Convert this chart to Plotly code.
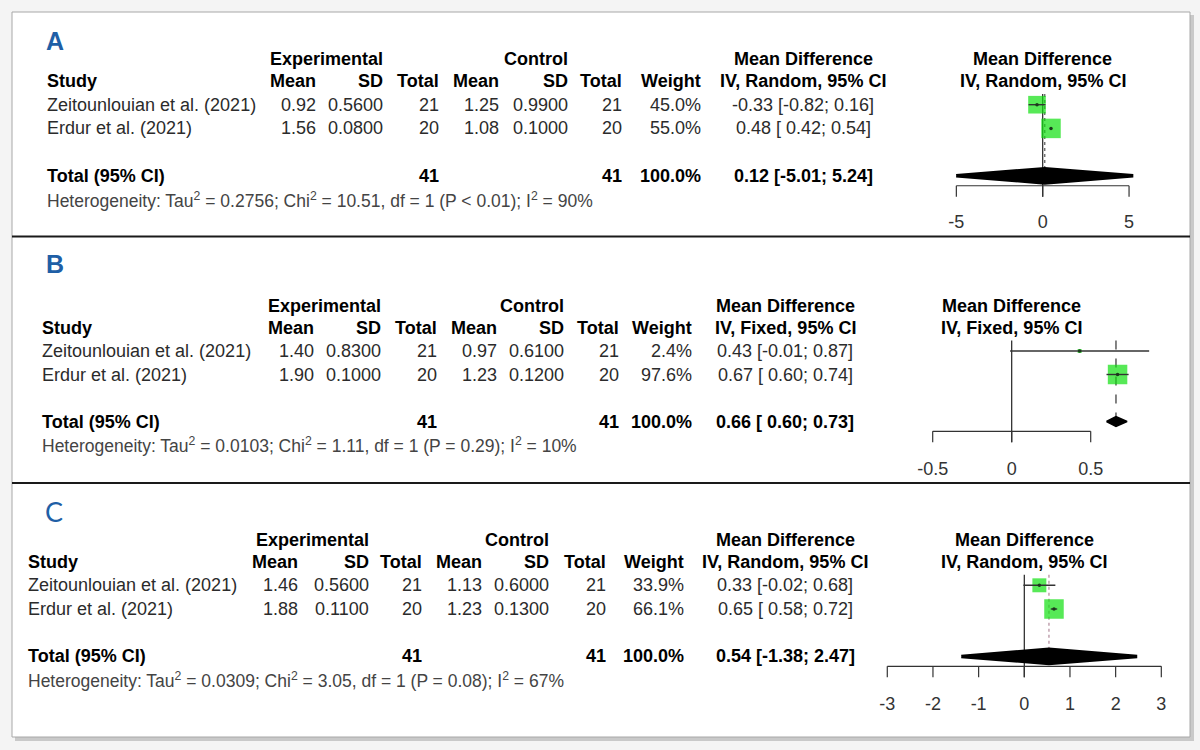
import math
import plotly.graph_objects as go

W, H = 1200, 750
FONT = "Liberation Sans, Arial, sans-serif"

# ---------------- data ----------------
studies = ["Zeitounlouian et al. (2021)", "Erdur et al. (2021)"]

# Panel A (random effects)
a_exp_mean = [0.92, 1.56]
a_exp_sd = [0.56, 0.08]
a_exp_n = [21, 20]
a_ctl_mean = [1.25, 1.08]
a_ctl_sd = [0.99, 0.10]
a_ctl_n = [21, 20]
a_weight = [45.0, 55.0]
a_md = [-0.33, 0.48]
a_lo = [-0.82, 0.42]
a_hi = [0.16, 0.54]
a_total = [0.12, -5.01, 5.24]
a_het = ["0.2756", "10.51", "P < 0.01", "90%"]
a_ticks = [-5, 0, 5]

# Panel B (fixed effect)
b_exp_mean = [1.40, 1.90]
b_exp_sd = [0.83, 0.10]
b_exp_n = [21, 20]
b_ctl_mean = [0.97, 1.23]
b_ctl_sd = [0.61, 0.12]
b_ctl_n = [21, 20]
b_weight = [2.4, 97.6]
b_md = [0.43, 0.67]
b_lo = [-0.01, 0.60]
b_hi = [0.87, 0.74]
b_total = [0.66, 0.60, 0.73]
b_het = ["0.0103", "1.11", "P = 0.29", "10%"]
b_ticks = [-0.5, 0, 0.5]

# Panel C (random effects)
c_exp_mean = [1.46, 1.88]
c_exp_sd = [0.56, 0.11]
c_exp_n = [21, 20]
c_ctl_mean = [1.13, 1.23]
c_ctl_sd = [0.60, 0.13]
c_ctl_n = [21, 20]
c_weight = [33.9, 66.1]
c_md = [0.33, 0.65]
c_lo = [-0.02, 0.58]
c_hi = [0.68, 0.72]
c_total = [0.54, -1.38, 2.47]
c_het = ["0.0309", "3.05", "P = 0.08", "67%"]
c_ticks = [-3, -2, -1, 0, 1, 2, 3]

panels = [
    dict(label="A", method="Random",
         exp_mean=a_exp_mean, exp_sd=a_exp_sd, exp_n=a_exp_n,
         ctl_mean=a_ctl_mean, ctl_sd=a_ctl_sd, ctl_n=a_ctl_n,
         weight=a_weight, md=a_md, lo=a_lo, hi=a_hi, total=a_total,
         het=a_het, ticks=a_ticks),
    dict(label="B", method="Fixed",
         exp_mean=b_exp_mean, exp_sd=b_exp_sd, exp_n=b_exp_n,
         ctl_mean=b_ctl_mean, ctl_sd=b_ctl_sd, ctl_n=b_ctl_n,
         weight=b_weight, md=b_md, lo=b_lo, hi=b_hi, total=b_total,
         het=b_het, ticks=b_ticks),
    dict(label="C", method="Random",
         exp_mean=c_exp_mean, exp_sd=c_exp_sd, exp_n=c_exp_n,
         ctl_mean=c_ctl_mean, ctl_sd=c_ctl_sd, ctl_n=c_ctl_n,
         weight=c_weight, md=c_md, lo=c_lo, hi=c_hi, total=c_total,
         het=c_het, ticks=c_ticks),
]

# ---------------- layout geometry (pixels) ----------------
geom = [
    dict(row0=81.0, rowh=23.7, zero=1042.7, ppu=17.27, xdom=(925, 1165), ytop=40, ybot=209,
         study_x=45, cols=[317.6, 384.6, 441, 501.3, 569.5, 624, 702.6], eff=803,
         lab=(55, 41), lab_font=dict(size=25, family="Liberation Sans, Arial", bold=True),
         dh=0.30, dlw=3.5, sline=dict(dash="dot", color="#555", width=1.2)),
    dict(row0=327.5, rowh=23.5, zero=1011.7, ppu=158.0, xdom=(915, 1170), ytop=285, ybot=456,
         study_x=40, cols=[315.7, 382.7, 439.3, 499.4, 566.4, 621, 693.8], eff=785,
         lab=(55, 264), lab_font=dict(size=25, family="Liberation Sans, Arial", bold=True),
         dh=0.21, dlw=1.5, sline=dict(dash="dash", color="#333", width=1.2)),
    dict(row0=561.6, rowh=23.7, zero=1024.3, ppu=45.67, xdom=(868, 1178), ytop=520, ybot=691,
         study_x=26, cols=[300.4, 371.2, 424, 484, 551, 607.5, 686], eff=785,
         lab=(54, 511), lab_font=dict(size=27, family="Lato, Open Sans", bold=False),
         dh=0.30, dlw=3.5, sline=dict(dash="dot", color="#b08a9a", width=1.2)),
]

BLUE = "#1f5fa6"
GREEN = "#0fe00f"
TXT = "#2b2b2b"

fig = go.Figure()
annotations = []
shapes = []

# frame
shapes.append(dict(type="rect", xref="paper", yref="paper", layer="below",
                   x0=15 / W, x1=1194 / W, y0=1 - 741 / H, y1=1 - 15 / H,
                   fillcolor="#c9c9c9", line=dict(width=0)))
shapes.append(dict(type="rect", xref="paper", yref="paper", layer="below",
                   x0=12 / W, x1=1190 / W, y0=1 - 737 / H, y1=1 - 12 / H,
                   fillcolor="white", line=dict(color="#a8a8a8", width=1)))
for ypx in (236.5, 483):
    shapes.append(dict(type="line", xref="paper", yref="paper",
                       x0=12 / W, x1=1190 / W, y0=1 - ypx / H, y1=1 - ypx / H,
                       line=dict(color="#1a1a1a", width=2)))


def ann(text, xpx, yref, y, anchor, size=18, bold=False, color=TXT):
    return dict(text=f"<b>{text}</b>" if bold else text, x=xpx / W, xref="paper",
                y=y, yref=yref, xanchor=anchor, yanchor="middle", showarrow=False,
                font=dict(size=size, color="#000" if bold else color, family=FONT))


AXIS_ROW = 4.42
TICK_ROW = 4.88
TOTAL_ROW = 4.0
HET_ROW = 5.0
H1, H2 = -0.92, 0.0

layout_axes = {}
for i, (p, g) in enumerate(zip(panels, geom)):
    k = "" if i == 0 else str(i + 1)
    xa, ya = "x" + k, "y" + k
    xr = [(g["xdom"][0] - g["zero"]) / g["ppu"], (g["xdom"][1] - g["zero"]) / g["ppu"]]
    yr = [(g["ybot"] - g["row0"]) / g["rowh"], (g["ytop"] - g["row0"]) / g["rowh"]]
    layout_axes["xaxis" + k] = dict(
        domain=[g["xdom"][0] / W, g["xdom"][1] / W], range=xr, anchor=ya,
        showgrid=False, zeroline=False, showline=False, ticks="",
        tickvals=p["ticks"], ticktext=[f"{t:g}" for t in p["ticks"]],
        tickfont=dict(size=18, color="#333", family=FONT), fixedrange=True)
    layout_axes["yaxis" + k] = dict(
        domain=[1 - g["ybot"] / H, 1 - g["ytop"] / H], range=yr, anchor=xa,
        visible=False, fixedrange=True)

    rows = [1.0, 2.0]
    est, tlo, thi = p["total"]

    # reference line at 0
    fig.add_trace(go.Scatter(x=[0, 0], y=[0.55, TICK_ROW], mode="lines",
                             line=dict(color="#222", width=1.2), xaxis=xa, yaxis=ya,
                             hoverinfo="skip", showlegend=False))
    # summary line
    fig.add_trace(go.Scatter(x=[est, est], y=[0.55, TOTAL_ROW - g["dh"]], mode="lines",
                             line=g["sline"], xaxis=xa, yaxis=ya,
                             hoverinfo="skip", showlegend=False))
    # squares (area proportional to weight)
    wmax = max(p["weight"])
    sizes = [max(4, 19.5 * math.sqrt(w / wmax)) for w in p["weight"]]
    fig.add_trace(go.Scatter(x=p["md"], y=rows, mode="markers",
                             marker=dict(symbol="square", size=sizes, color=GREEN,
                                         line=dict(width=0)),
                             xaxis=xa, yaxis=ya, hoverinfo="skip", showlegend=False))
    # CI lines
    cx, cy = [], []
    for lo, hi, r in zip(p["lo"], p["hi"], rows):
        cx += [lo, hi, None]
        cy += [r, r, None]
    fig.add_trace(go.Scatter(x=cx, y=cy, mode="lines", line=dict(color="#333", width=1.4),
                             xaxis=xa, yaxis=ya, hoverinfo="skip", showlegend=False))
    fig.add_trace(go.Scatter(x=p["md"], y=rows, mode="markers",
                             marker=dict(symbol="circle", size=3.5, color="#1a3a1a"),
                             xaxis=xa, yaxis=ya, hoverinfo="skip", showlegend=False))
    # diamond
    dh = g["dh"]
    fig.add_trace(go.Scatter(x=[tlo, est, thi, est, tlo],
                             y=[TOTAL_ROW, TOTAL_ROW - dh, TOTAL_ROW, TOTAL_ROW + dh, TOTAL_ROW],
                             mode="lines", fill="toself", fillcolor="black",
                             line=dict(color="black", width=g["dlw"]), xaxis=xa, yaxis=ya,
                             hoverinfo="skip", showlegend=False))
    # axis line with ticks
    t = p["ticks"]
    axx, axy = [t[0], t[-1], None], [AXIS_ROW, AXIS_ROW, None]
    for tv in t:
        axx += [tv, tv, None]
        axy += [AXIS_ROW, TICK_ROW, None]
    fig.add_trace(go.Scatter(x=axx, y=axy, mode="lines", line=dict(color="#333", width=1.2),
                             xaxis=xa, yaxis=ya, hoverinfo="skip", showlegend=False))

    # ---------- table text ----------
    c = g["cols"]
    annotations.append(dict(text=f"<b>{p['label']}</b>" if g["lab_font"]["bold"] else p["label"],
                            x=g["lab"][0] / W, y=1 - g["lab"][1] / H, xref="paper", yref="paper",
                            xanchor="center", yanchor="middle", showarrow=False,
                            font=dict(size=g["lab_font"]["size"], color=BLUE,
                                      family=g["lab_font"]["family"])))
    annotations.append(ann("Experimental", c[1], ya, H1, "right", bold=True))
    annotations.append(ann("Control", c[4], ya, H1, "right", bold=True))
    annotations.append(ann("Mean Difference", g["eff"], ya, H1, "center", bold=True))
    annotations.append(ann("Mean Difference", g["zero"], ya, H1, "center", bold=True))
    annotations.append(ann("Study", g["study_x"], ya, H2, "left", bold=True))
    for txt, cx_ in zip(["Mean", "SD", "Total", "Mean", "SD", "Total", "Weight"], c):
        annotations.append(ann(txt, cx_, ya, H2, "right", bold=True))
    ivtxt = f"IV, {p['method']}, 95% CI"
    annotations.append(ann(ivtxt, g["eff"], ya, H2, "center", bold=True))
    annotations.append(ann(ivtxt, g["zero"], ya, H2, "center", bold=True))

    for j, r in enumerate(rows):
        vals = [f"{p['exp_mean'][j]:.2f}", f"{p['exp_sd'][j]:.4f}", f"{p['exp_n'][j]}",
                f"{p['ctl_mean'][j]:.2f}", f"{p['ctl_sd'][j]:.4f}", f"{p['ctl_n'][j]}",
                f"{p['weight'][j]:.1f}%"]
        annotations.append(ann(studies[j], g["study_x"], ya, r, "left"))
        for v, cx_ in zip(vals, c):
            annotations.append(ann(v, cx_, ya, r, "right"))
        eff = f"{p['md'][j]:.2f} [{p['lo'][j]:5.2f}; {p['hi'][j]:.2f}]"
        annotations.append(ann(eff, g["eff"], ya, r, "center"))

    annotations.append(ann("Total (95% CI)", g["study_x"], ya, TOTAL_ROW, "left", bold=True))
    annotations.append(ann(str(sum(p["exp_n"])), c[2], ya, TOTAL_ROW, "right", bold=True))
    annotations.append(ann(str(sum(p["ctl_n"])), c[5], ya, TOTAL_ROW, "right", bold=True))
    annotations.append(ann(f"{sum(p['weight']):.1f}%", c[6], ya, TOTAL_ROW, "right", bold=True))
    annotations.append(ann(f"{est:.2f} [{tlo:5.2f}; {thi:.2f}]", g["eff"], ya, TOTAL_ROW,
                           "center", bold=True))
    tau2, chi2, pv, i2 = p["het"]
    het = (f"Heterogeneity: Tau<sup>2</sup> = {tau2}; Chi<sup>2</sup> = {chi2}, "
           f"df = 1 ({pv}); I<sup>2</sup> = {i2}")
    annotations.append(ann(het, g["study_x"], ya, HET_ROW, "left", size=17.5, color="#444"))

fig.update_layout(
    width=W, height=H, margin=dict(l=0, r=0, t=0, b=0),
    paper_bgcolor="#f4f4f4", plot_bgcolor="rgba(0,0,0,0)",
    showlegend=False, shapes=shapes, annotations=annotations,
    font=dict(family=FONT, color=TXT),
    **layout_axes,
)

fig.write_html("out.html", config={"displayModeBar": False},
               post_script="document.body.style.margin='0px';document.body.style.overflow='hidden';")
